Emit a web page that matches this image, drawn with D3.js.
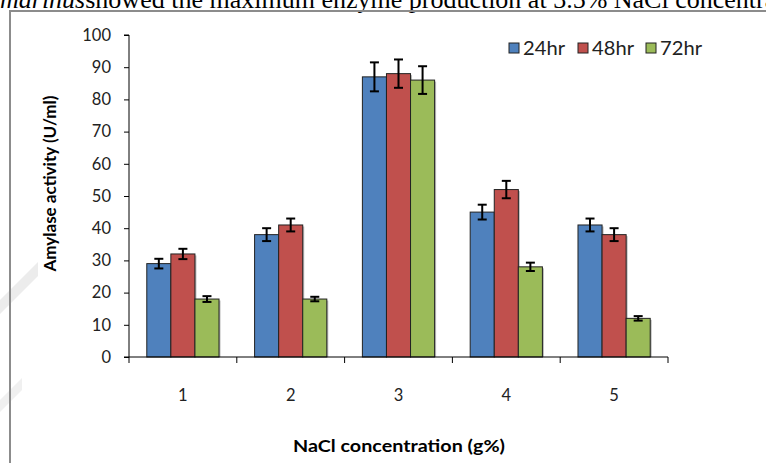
<!DOCTYPE html>
<html><head><meta charset="utf-8">
<script src="https://cdn.jsdelivr.net/npm/d3@7"></script>
<style>body{margin:0;background:#fff;}svg{display:block;}</style>
</head><body>
<svg id="c" width="766" height="463"></svg>
<script>
const categories = ["1","2","3","4","5"];
const seriesNames = ["24hr","48hr","72hr"];
const colors = ["#4F81BD","#C0504D","#9BBB59"];
const values24 = [29,38,87,45,41];
const values48 = [32,41,88,52,38];
const values72 = [18,18,86,28,12];
const err24 = [1.5,2.0,4.5,2.3,2.0];
const err48 = [1.6,2.0,4.4,2.7,2.0];
const err72 = [0.9,0.7,4.3,1.3,0.7];
const yTicks = [0,10,20,30,40,50,60,70,80,90,100];

(function(){
const values = [values24, values48, values72];
const errs = [err24, err48, err72];

const svg = d3.select("#c");
const font = "Lato, 'Open Sans', sans-serif";

// faint watermark strokes at left
svg.append("path").attr("d","M0,300 L38,262 L38,276 L0,314 Z").attr("fill","#ececec");
svg.append("path").attr("d","M0,400 L22,378 L22,390 L0,412 Z").attr("fill","#f0f0f0");

// top clipped caption text
const cap = svg.append("text").attr("x", 0).attr("y", 8)
  .attr("font-family","'Liberation Serif', 'Times New Roman', serif").attr("font-size", 26).attr("fill","#000");
cap.append("tspan").attr("font-style","italic").text("marinus");
cap.append("tspan").text("showed the maximum enzyme production at 3.5% NaCl concentration");

// chart frame
svg.append("path").attr("d","M10,463 L10,11 L766,11").attr("fill","none").attr("stroke","#8c8c8c").attr("stroke-width",2);

const pL = 129, pR = 668, pT = 35, pB = 357;
const x = d3.scaleBand().domain(categories).range([pL, pR]).paddingInner(0.33).paddingOuter(0.165);
const xs = d3.scaleBand().domain(seriesNames).range([0, x.bandwidth()]);
const y = d3.scaleLinear().domain([0,100]).range([pB, pT]);

// bars
seriesNames.forEach((s, si) => {
  const g = svg.append("g");
  g.selectAll("rect.sh").data(categories).enter().append("rect")
    .attr("x", c => x(c) + xs(s) + 1.5)
    .attr("y", (c,i) => y(values[si][i]) + 1.5)
    .attr("width", xs.bandwidth())
    .attr("height", (c,i) => pB - y(values[si][i]) - 1.5)
    .attr("fill", "#bbb");
  g.selectAll("rect.b").data(categories).enter().append("rect")
    .attr("x", c => x(c) + xs(s))
    .attr("y", (c,i) => y(values[si][i]))
    .attr("width", xs.bandwidth())
    .attr("height", (c,i) => pB - y(values[si][i]))
    .attr("fill", colors[si]).attr("stroke","#222").attr("stroke-width",1);
});

// error bars
seriesNames.forEach((s, si) => {
  categories.forEach((c, i) => {
    const cx = x(c) + xs(s) + xs.bandwidth()/2;
    const hi = y(values[si][i] + errs[si][i]);
    const lo = y(values[si][i] - errs[si][i]);
    const g = svg.append("g").attr("stroke","#000").attr("stroke-width",2);
    g.append("line").attr("x1",cx).attr("x2",cx).attr("y1",hi).attr("y2",lo);
    g.append("line").attr("x1",cx-4.5).attr("x2",cx+4.5).attr("y1",hi).attr("y2",hi);
    g.append("line").attr("x1",cx-4.5).attr("x2",cx+4.5).attr("y1",lo).attr("y2",lo);
  });
});

// y axis
const ya = svg.append("g").attr("transform",`translate(${pL},0)`)
  .call(d3.axisLeft(y).tickValues(yTicks).tickSize(5).tickPadding(13));
ya.select(".domain").attr("stroke","#000").attr("d",`M-5,${pT}H0V${pB}`);
ya.selectAll(".tick line").attr("stroke","#000");
ya.selectAll("text").attr("font-family",font).attr("font-size",16.5).attr("fill","#222");

// x axis
const xa = svg.append("g").attr("transform",`translate(0,${pB})`);
xa.append("line").attr("x1",pL-5).attr("x2",pR).attr("y1",0).attr("y2",0).attr("stroke","#000");
const bounds = categories.map(c => x(c) - x.step()*x.paddingInner()/2);
bounds.push(pR);
xa.selectAll("line.t").data(bounds).enter().append("line")
  .attr("x1",d=>d).attr("x2",d=>d).attr("y1",0).attr("y2",6).attr("stroke","#000");
xa.selectAll("text").data(categories).enter().append("text")
  .attr("x", c => x(c) + x.bandwidth()/2).attr("y", 44)
  .attr("text-anchor","middle").attr("font-family",font).attr("font-size",16.5).attr("fill","#222")
  .text(c => c);

// axis titles
svg.append("text").attr("x", 399).attr("y", 452).attr("text-anchor","middle")
  .attr("font-family",font).attr("font-weight","bold").attr("font-size",17.5).attr("fill","#000")
  .attr("textLength", 212).attr("lengthAdjust","spacingAndGlyphs")
  .text("NaCl concentration (g%)");
svg.append("text").attr("transform","translate(56,183.5) rotate(-90)").attr("text-anchor","middle")
  .attr("font-family",font).attr("font-weight","bold").attr("font-size",17).attr("fill","#000")
  .attr("textLength", 176).attr("lengthAdjust","spacingAndGlyphs")
  .text("Amylase activity (U/ml)");

// legend
const lx = [509, 578, 646];
seriesNames.forEach((s, si) => {
  svg.append("rect").attr("x", lx[si]).attr("y", 43).attr("width", 10).attr("height", 10)
    .attr("fill", colors[si]).attr("stroke","#222").attr("stroke-width",1);
  svg.append("text").attr("x", lx[si] + 14).attr("y", 55)
    .attr("font-family",font).attr("font-size",18.5).attr("fill","#222")
    .attr("textLength", 42).attr("lengthAdjust","spacingAndGlyphs").text(s);
});
})();
</script>
</body></html>
